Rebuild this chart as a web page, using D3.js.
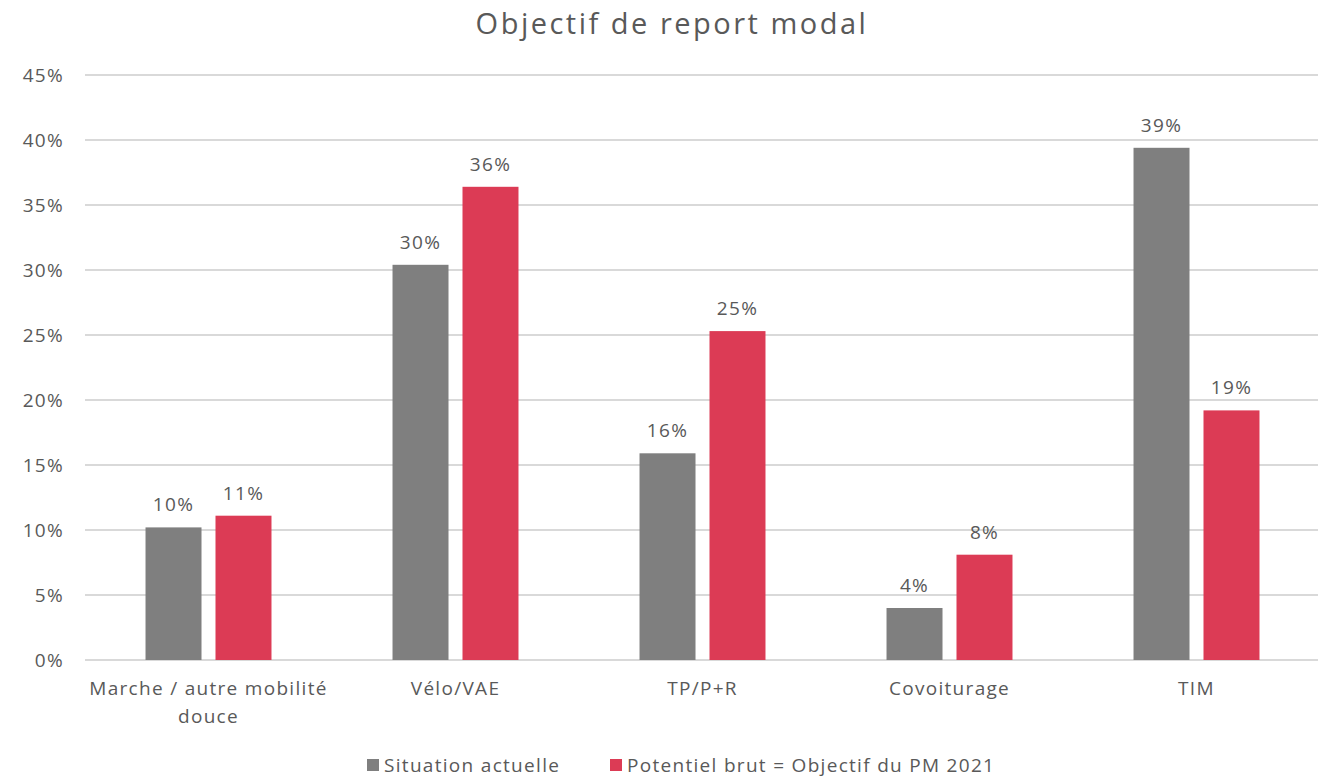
<!DOCTYPE html>
<html>
<head>
<meta charset="utf-8">
<script src="https://cdn.jsdelivr.net/npm/d3@7"></script>
<style>
  body { margin:0; background:#fff; }
  svg text { font-family: "Open Sans", "Lato", sans-serif; fill:#595959; letter-spacing:1.3px; }
</style>
</head>
<body>
<div id="chart"></div>
<script>
var categories = [['Marche / autre mobilité', 'douce'], ['Vélo/VAE'], ['TP/P+R'], ['Covoiturage'], ['TIM']]
var seriesNames = ['Situation actuelle', 'Potentiel brut = Objectif du PM 2021']
var actuel   = [10.2, 30.4, 15.9, 4.0, 39.4]
var objectif = [11.1, 36.4, 25.3, 8.1, 19.2]
var yTicks = [0, 5, 10, 15, 20, 25, 30, 35, 40, 45]
var colors = ['#7f7f7f', '#dc3b55']

var w = 1320, h = 777
var m = { top:75, right:0, bottom:117, left:85 }

var svg = d3.select('#chart').append('svg')
    .attr('width', w)
    .attr('height', h)

var x0 = d3.scaleBand()
    .domain(d3.range(categories.length))
    .range([m.left, w-m.right])
    .paddingInner(0.49)
    .paddingOuter(0.245)

var x1 = d3.scaleBand()
    .domain([0, 1])
    .range([0, x0.bandwidth()])
    .paddingInner(0.2)

var y = d3.scaleLinear()
    .domain([0, 45])
    .range([h-m.bottom, m.top])

// title
svg.append('text')
    .attr('x', 672)
    .attr('y', 34)
    .attr('text-anchor', 'middle')
    .style('font-size', '29px')
    .style('letter-spacing', '2.5px')
    .text('Objectif de report modal')

// grid
svg.append('g').selectAll('line')
    .data(yTicks)
    .join('line')
    .attr('x1', m.left)
    .attr('x2', w-2)
    .attr('y1', d=> y(d))
    .attr('y2', d=> y(d))
    .attr('stroke', '#d9d9d9')
    .attr('stroke-width', 2)

// y labels
svg.append('g').selectAll('text')
    .data(yTicks)
    .join('text')
    .attr('x', 64)
    .attr('y', d=> y(d))
    .attr('dy', '0.35em')
    .attr('text-anchor', 'end')
    .style('font-size', '19px')
    .text(d=> d + '%')

var series = [actuel, objectif]
series.forEach(function(vals, s) {
    var g = svg.append('g')
    g.selectAll('rect')
        .data(vals)
        .join('rect')
        .attr('x', (d, i)=> x0(i) + x1(s))
        .attr('width', x1.bandwidth())
        .attr('y', d=> y(d))
        .attr('height', d=> y(0) - y(d))
        .attr('fill', colors[s])
    g.selectAll('text')
        .data(vals)
        .join('text')
        .attr('x', (d, i)=> x0(i) + x1(s) + x1.bandwidth()/2)
        .attr('y', d=> y(d) - 16)
        .attr('text-anchor', 'middle')
        .style('font-size', '19px')
        .text(d=> Math.round(d) + '%')
})

// category labels
var cat = svg.append('g').selectAll('text')
    .data(categories)
    .join('text')
    .attr('x', (d, i)=> x0(i) + x0.bandwidth()/2)
    .attr('y', 695)
    .attr('text-anchor', 'middle')
    .style('font-size', '19px')
cat.selectAll('tspan')
    .data(d=> d)
    .join('tspan')
    .attr('x', function() { return this.parentNode.getAttribute('x') })
    .attr('dy', (d, i)=> i ? 28 : 0)
    .text(d=> d)

// legend
var legX = [367, 610]
var leg = svg.append('g').selectAll('g')
    .data(seriesNames)
    .join('g')
    .attr('transform', (d, i)=> 'translate(' + legX[i] + ',765)')
leg.append('rect')
    .attr('x', 0)
    .attr('y', -6)
    .attr('width', 12)
    .attr('height', 12)
    .attr('fill', (d, i)=> colors[i])
leg.append('text')
    .attr('x', 17)
    .attr('dy', '0.35em')
    .style('font-size', '19px')
    .text(d=> d)
</script>
</body>
</html>
